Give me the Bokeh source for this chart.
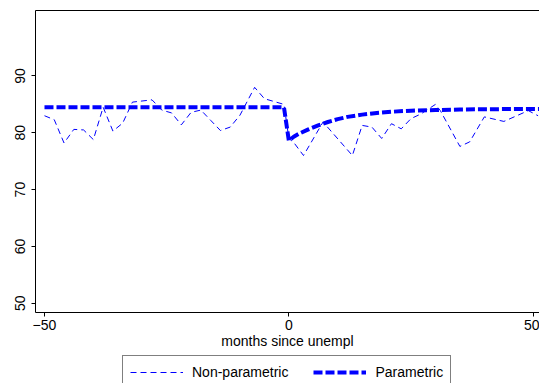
from bokeh.plotting import figure
from bokeh.layouts import column
from bokeh.models import Range1d, FixedTicker, LinearAxis, Legend, LegendItem
from bokeh.embed import file_html
from bokeh.resources import INLINE

# Non-parametric estimate (months since unemployment, share)
np_months = [-50, -48, -46, -44, -42, -40, -38, -36, -34, -32, -28, -26, -24, -22,
             -20, -18, -16, -14, -12, -10, -7, -5, -1, 0, 1, 3, 7, 13, 15, 17, 19,
             21, 23, 25, 27, 30, 31, 35, 37, 40, 44, 49, 51]
np_values = [83.0, 82.3, 78.2, 80.6, 80.5, 78.8, 84.5, 80.3, 81.7, 85.4, 85.8, 84.0,
             83.5, 81.4, 83.6, 84.0, 82.2, 80.4, 81.0, 83.1, 88.0, 86.0, 85.0, 79.0,
             78.3, 76.0, 81.9, 76.0, 81.3, 81.0, 79.0, 81.6, 80.7, 82.5, 83.3, 85.0,
             83.9, 77.6, 78.4, 82.8, 82.0, 83.9, 83.0]

# Parametric estimate
par_months = [-50, -1, 0, 1, 2, 4, 6, 8, 10, 12, 15, 18, 21, 25, 30, 35, 40, 50, 52]
par_values = [84.5, 84.5, 78.6, 79.3, 79.8, 80.6, 81.3, 81.9, 82.4, 82.8, 83.2, 83.5,
              83.7, 83.9, 84.0, 84.1, 84.15, 84.2, 84.2]

x_ticks = [-50, 0, 50]
y_ticks = [50, 60, 70, 80, 90]
series_labels = ["Non-parametric", "Parametric"]

FONT = "Liberation Sans"
FS = "14px"
NP_STYLE = dict(line_color="blue", line_width=1, line_dash="6 4")
PAR_STYLE = dict(line_color="blue", line_width=4, line_dash="9 3")

p = figure(width=539, height=352, output_backend="svg", toolbar_location=None,
           x_range=Range1d(-51.84, 51.29), y_range=Range1d(48.36, 101.53),
           min_border_left=35, min_border_right=0, min_border_top=10,
           min_border_bottom=40, background_fill_color="white",
           border_fill_color="white")
p.outline_line_color = None
p.xgrid.visible = False
p.ygrid.visible = False

for ax in (p.xaxis[0], p.yaxis[0]):
    ax.axis_line_color = "black"
    ax.axis_line_width = 1
    ax.major_tick_line_color = "black"
    ax.major_tick_in = 0
    ax.major_tick_out = 4
    ax.minor_tick_line_color = None
    ax.major_label_text_font = FONT
    ax.major_label_text_font_size = FS
    ax.major_label_text_color = "black"

p.xaxis[0].ticker = FixedTicker(ticks=x_ticks)
p.yaxis[0].ticker = FixedTicker(ticks=y_ticks)
p.yaxis[0].major_label_orientation = "vertical"
p.yaxis[0].major_label_standoff = 6
p.xaxis[0].major_label_standoff = 3
p.xaxis[0].axis_label = "months since unempl"
p.xaxis[0].axis_label_text_font = FONT
p.xaxis[0].axis_label_text_font_size = FS
p.xaxis[0].axis_label_text_font_style = "normal"
p.xaxis[0].axis_label_text_color = "black"
p.xaxis[0].axis_label_standoff = 0

top = LinearAxis(ticker=FixedTicker(ticks=x_ticks), major_label_text_font_size="1px",
                 major_label_text_color=None, major_tick_line_color=None,
                 major_tick_out=0, major_tick_in=0, major_label_standoff=0,
                 minor_tick_line_color=None, axis_line_color="black")
p.add_layout(top, "above")

p.line(np_months, np_values, **NP_STYLE)
p.line(par_months, par_values, **PAR_STYLE)

# Legend strip below the chart (series drawn out of view; only the key shows)
leg = figure(width=539, height=31, output_backend="svg", toolbar_location=None,
             x_range=Range1d(0, 1), y_range=Range1d(0, 1),
             x_axis_location=None, y_axis_location=None,
             min_border_left=0, min_border_right=0, min_border_top=0,
             min_border_bottom=0, background_fill_color="white",
             border_fill_color="white")
leg.outline_line_color = None
leg.grid.visible = False
lr1 = leg.line(np_months, np_values, **NP_STYLE)
lr2 = leg.line(par_months, par_values, **PAR_STYLE)

legend = Legend(items=[LegendItem(label=series_labels[0], renderers=[lr1]),
                       LegendItem(label=series_labels[1], renderers=[lr2])],
                orientation="horizontal", location=(87, -6),
                border_line_color="black", border_line_width=1,
                label_text_font=FONT, label_text_font_size=FS,
                label_text_color="black",
                glyph_width=53, glyph_height=18, label_height=18,
                label_standoff=9, spacing=25, padding=7, margin=0)
leg.add_layout(legend, "center")

layout = column(p, leg, spacing=0)
open("out.html", "w").write(file_html(layout, INLINE))
